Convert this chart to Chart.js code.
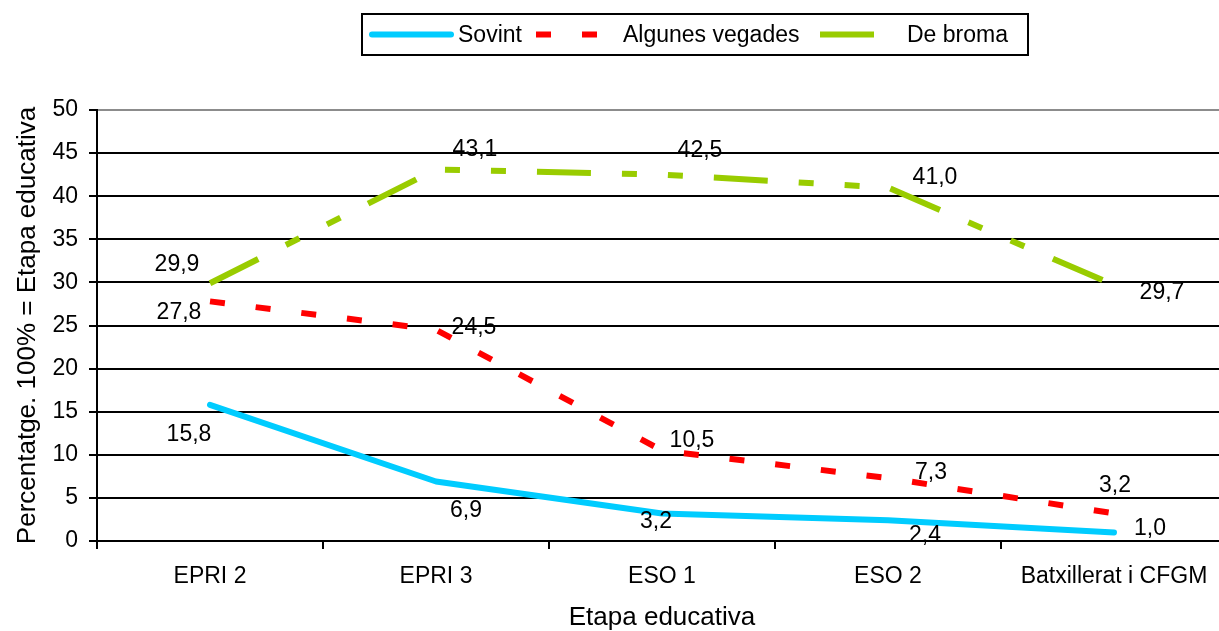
<!DOCTYPE html>
<html>
<head>
<meta charset="utf-8">
<title>Etapa educativa</title>
<script src="https://cdn.jsdelivr.net/npm/chart.js@4.4.1/dist/chart.umd.min.js"></script>
<style>
  html, body { margin: 0; padding: 0; overflow: hidden; background: #fff; width: 1219px; height: 631px; }
  #wrap { position: absolute; left: 0; top: 0; width: 1228px; height: 631px; }
</style>
</head>
<body>
<div id="wrap"><canvas id="chart" width="1228" height="631"></canvas></div>
<script>
// Categories and series values
const categories = ['EPRI 2', 'EPRI 3', 'ESO 1', 'ESO 2', 'Batxillerat i CFGM'];
const sovint = [15.8, 6.9, 3.2, 2.4, 1.0];
const algunesVegades = [27.8, 24.5, 10.5, 7.3, 3.2];
const deBroma = [29.9, 43.1, 42.5, 41.0, 29.7];
const seriesNames = ['Sovint', 'Algunes vegades', 'De broma'];
const yMin = 0, yMax = 50, yStep = 5;

// Where each value label sits relative to its point (dx, dy in px)
const labelOffsets = [
  [[-21, 30], [30, 29], [-6, 8], [37, 15], [36, -4]],
  [[-31, 11], [38, -2], [30, -10], [43, -5], [1, -28]],
  [[-33, -19], [39, -20], [38, -24], [47, -10], [48, 8]]
];

const FONT = '"Liberation Sans", Arial, Helvetica, sans-serif';

const fmt = v => v.toFixed(1).replace('.', ',');

// Value labels next to each point
const valueLabels = {
  id: 'valueLabels',
  afterDatasetsDraw(chart) {
    const ctx = chart.ctx;
    ctx.save();
    ctx.font = '23px ' + FONT;
    ctx.fillStyle = '#000';
    ctx.textAlign = 'center';
    ctx.textBaseline = 'middle';
    chart.data.datasets.forEach((ds, i) => {
      const meta = chart.getDatasetMeta(i);
      meta.data.forEach((pt, j) => {
        const [dx, dy] = labelOffsets[i][j];
        ctx.fillText(fmt(ds.data[j]), pt.x + dx, pt.y + dy);
      });
    });
    ctx.restore();
  }
};

// Boxed legend above the plot
const boxedLegend = {
  id: 'boxedLegend',
  afterDraw(chart) {
    const ctx = chart.ctx;
    const box = { x: 362, y: 14, w: 666, h: 41 };
    const cy = box.y + box.h / 2;
    const items = [
      { x0: 369, x1: 454, tx: 458 },
      { x0: 536, x1: 598, tx: 623 },
      { x0: 820, x1: 874, tx: 907 }
    ];
    ctx.save();
    ctx.lineWidth = 2;
    ctx.strokeStyle = '#000';
    ctx.strokeRect(box.x, box.y, box.w, box.h);
    chart.data.datasets.forEach((ds, i) => {
      const it = items[i];
      ctx.beginPath();
      ctx.strokeStyle = ds.borderColor;
      ctx.lineWidth = 6;
      ctx.lineCap = ds.borderCapStyle || 'butt';
      ctx.setLineDash(ds.borderDash || []);
      ctx.moveTo(it.x0 + (ctx.lineCap === 'round' ? 3 : 0), cy);
      ctx.lineTo(it.x1 - (ctx.lineCap === 'round' ? 3 : 0), cy);
      ctx.stroke();
      ctx.setLineDash([]);
      ctx.font = '23px ' + FONT;
      ctx.fillStyle = '#000';
      ctx.textAlign = 'left';
      ctx.textBaseline = 'middle';
      ctx.fillText(ds.label, it.tx, cy + 1);
    });
    ctx.restore();
  }
};

new Chart(document.getElementById('chart'), {
  type: 'line',
  data: {
    labels: categories,
    datasets: [
      { label: seriesNames[0], data: sovint, borderColor: '#00CCFF', borderWidth: 6,
        borderCapStyle: 'round', borderJoinStyle: 'round', pointRadius: 0, tension: 0, fill: false },
      { label: seriesNames[1], data: algunesVegades, borderColor: '#FF0000', borderWidth: 6,
        borderDash: [15, 31], borderCapStyle: 'butt', pointRadius: 0, tension: 0, fill: false },
      { label: seriesNames[2], data: deBroma, borderColor: '#99CC00', borderWidth: 6,
        borderDash: [54, 31, 15, 31, 15, 31], borderCapStyle: 'butt', pointRadius: 0, tension: 0, fill: false }
    ]
  },
  options: {
    responsive: false,
    devicePixelRatio: 1,
    animation: false,
    layout: { padding: { top: 110, right: 1, left: 0, bottom: 0 } },
    plugins: { legend: { display: false }, tooltip: { enabled: false } },
    scales: {
      x: {
        offset: true,
        grid: { offset: true, drawOnChartArea: false, color: '#000', lineWidth: 2, tickLength: 8 },
        border: { color: '#000', width: 2 },
        ticks: { color: '#000', font: { family: FONT, size: 23 }, padding: 14, maxRotation: 0, autoSkip: false },
        title: { display: true, text: 'Etapa educativa', color: '#000',
                 font: { family: FONT, size: 26, lineHeight: 1 }, padding: 0 },
        afterFit(scale) { scale.height = 90; }
      },
      y: {
        min: yMin, max: yMax,
        ticks: { stepSize: yStep, color: '#000', font: { family: FONT, size: 23 }, padding: 11 },
        grid: {
          color: c => (c.tick && c.tick.value === yMax) ? '#8c8c8c' : '#000',
          tickColor: '#000', lineWidth: 2, tickLength: 8
        },
        border: { color: '#000', width: 2 },
        title: { display: true, text: 'Percentatge. 100% = Etapa educativa', color: '#000',
                 font: { family: FONT, size: 26, lineHeight: 1 }, padding: { top: 15, bottom: 0 } },
        afterFit(scale) { scale.width = 97; }
      }
    }
  },
  plugins: [valueLabels, boxedLegend]
});
</script>
</body>
</html>
